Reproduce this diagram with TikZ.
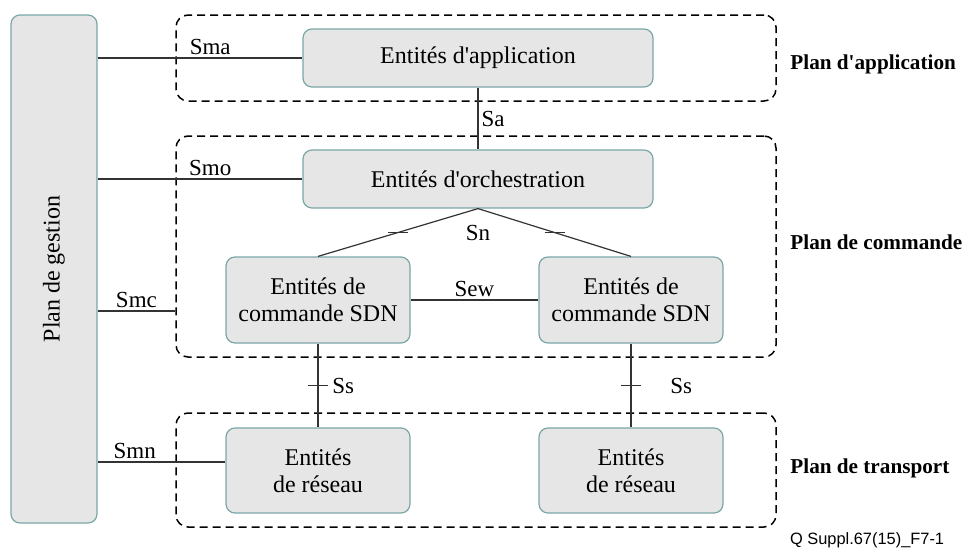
\documentclass[tikz,border=0pt]{standalone}
\usepackage{fontspec}
\setmainfont{Liberation Serif}
\setsansfont{Liberation Sans}
\usetikzlibrary{positioning}
\definecolor{EntStroke}{HTML}{7BA7A7}
\definecolor{EntFill}{HTML}{E6E6E6}
\definecolor{LinkLine}{HTML}{333333}
\newcommand{\apos}{\textquotesingle}

\tikzset{
  entity/.style={draw=EntStroke,fill=EntFill,rounded corners=4.5pt,line width=0.6pt,
                 align=center,font=\fontsize{12}{13.5}\selectfont},
  plane/.style={draw=black,dashed,dash pattern=on 4pt off 2.5pt,rounded corners=6pt,line width=0.75pt},
  link/.style={draw=LinkLine,line width=0.6pt},
  iflabel/.style={font=\fontsize{11.5}{13}\selectfont,inner sep=1.5pt},
  planelabel/.style={anchor=west,inner sep=0pt,font=\fontsize{10.6}{12}\selectfont\bfseries}
}

\begin{document}
\begin{tikzpicture}[x=0.5pt,y=-0.5pt]
  \useasboundingbox (0,0) rectangle (976,552);

  % planes
  \node[plane,minimum width=300pt,minimum height=43pt] (appPlane) at (476,58) {};
  \node[plane,minimum width=300pt,minimum height=110.5pt] (cmdPlane) at (476,246.5) {};
  \node[plane,minimum width=300pt,minimum height=57pt] (trPlane) at (476,470) {};

  % entities
  \node[entity,minimum width=43pt,minimum height=254pt] (gestion) at (54,269) {};
  \node[font=\fontsize{12}{13.5}\selectfont,rotate=90] at (gestion.center) {Plan de gestion};
  \node[entity,minimum width=175pt,minimum height=29pt] (app) at (478,58) {Entités d\apos application};
  \node[entity,minimum width=175pt,minimum height=29pt] (orch) at (478,179) {Entités d\apos orchestration};
  \node[entity,minimum width=92pt,minimum height=43pt] (sdnL) at (318,300) {Entités de\\commande SDN};
  \node[entity,minimum width=92pt,minimum height=43pt] (sdnR) at (631,300) {Entités de\\commande SDN};
  \node[entity,minimum width=92pt,minimum height=42.5pt] (netL) at (318,470.5) {Entités\\de réseau};
  \node[entity,minimum width=92pt,minimum height=42.5pt] (netR) at (631,470.5) {Entités\\de réseau};

  % management interfaces
  \draw[link] (gestion.east |- app.west) -- (app.west) node[iflabel,pos=0.55,above] {Sma};
  \draw[link] (gestion.east |- orch.west) -- (orch.west) node[iflabel,pos=0.55,above] {Smo};
  \draw[link] (gestion.east |- 0,311) -- (cmdPlane.west |- 0,311) node[iflabel,midway,above] {Smc};
  \draw[link] (gestion.east |- 0,462) -- (netL.west |- 0,462) node[iflabel,pos=0.29,above] {Smn};

  % vertical and lateral interfaces
  \draw[link] (app.south) -- (orch.north) node[iflabel,midway,right] {Sa};
  \draw[link] (orch.south) -- (sdnL.north) coordinate[midway] (snL);
  \draw[link] (orch.south) -- (sdnR.north) coordinate[midway] (snR);
  \draw[link] ([xshift=-5pt]snL) -- ([xshift=5pt]snL);
  \draw[link] ([xshift=-5pt]snR) -- ([xshift=5pt]snR);
  \node[iflabel] (snLabel) at (478,233) {Sn};
  \draw[link] (sdnL.east) -- (sdnR.west) node[iflabel,midway,above] {Sew};

  \draw[link] (sdnL.south) -- (netL.north) coordinate[midway] (ssL);
  \draw[link] (sdnR.south) -- (netR.north) coordinate[midway] (ssR);
  \draw[link] ([xshift=-5pt]ssL) -- ([xshift=5pt]ssL);
  \draw[link] ([xshift=-5pt]ssR) -- ([xshift=5pt]ssR);
  \node[iflabel,anchor=west] (ssLabelL) at (329,385.5) {Ss};
  \node[iflabel,anchor=west] (ssLabelR) at (667,385.5) {Ss};

  % plane labels
  \node[planelabel] (appLabel) at (790,64) {Plan d\apos application};
  \node[planelabel] (cmdLabel) at (790,242) {Plan de commande};
  \node[planelabel] (trLabel) at (790,468) {Plan de transport};

  \node[anchor=west,font=\sffamily\fontsize{8.2}{9}\selectfont] (figId) at (783,540) {Q Suppl.67(15)\_F7-1};
\end{tikzpicture}
\end{document}
